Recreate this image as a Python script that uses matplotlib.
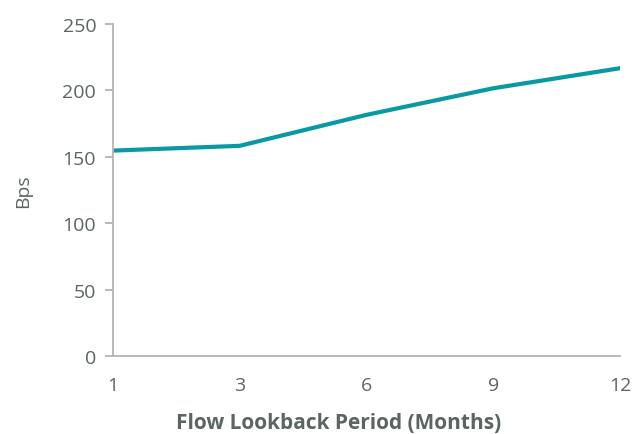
import matplotlib
matplotlib.use("Agg")
import matplotlib.pyplot as plt

periods = ["1", "3", "6", "9", "12"]
bps = [154.6, 158.2, 181.5, 201.5, 216.6]
y_ticks = [0, 50, 100, 150, 200, 250]

text_color = "#5b6562"
line_color = "#0899a3"
axis_color = "#b4b4b4"

plt.rcParams["font.family"] = ["Open Sans", "DejaVu Sans"]

fig = plt.figure(figsize=(6.34, 4.35), dpi=100)
ax = fig.add_axes([0.178, 0.179, 0.800, 0.764])

x = list(range(len(periods)))
ax.plot(x, bps, color=line_color, linewidth=3, solid_capstyle="round")

ax.set_xlim(0, len(periods) - 1)
ax.set_ylim(0, 250)
ax.set_xticks(x)
ax.set_xticklabels(periods)
ax.set_yticks(y_ticks)

for side in ("top", "right"):
    ax.spines[side].set_visible(False)
for side in ("left", "bottom"):
    ax.spines[side].set_color(axis_color)
    ax.spines[side].set_linewidth(1.3)

ax.tick_params(axis="y", colors=axis_color, labelcolor=text_color,
               labelsize=14, length=6, width=1.3, pad=6)
ax.tick_params(axis="x", length=0, labelcolor=text_color, labelsize=14, pad=14)

ax.set_ylabel("Bps", color=text_color, fontsize=14, labelpad=22)
ax.set_xlabel("Flow Lookback Period (Months)", color=text_color,
              fontsize=15, fontweight="bold", va="center")
ax.xaxis.set_label_coords(0.446, -0.199)

fig.savefig("out.png", dpi=100)
